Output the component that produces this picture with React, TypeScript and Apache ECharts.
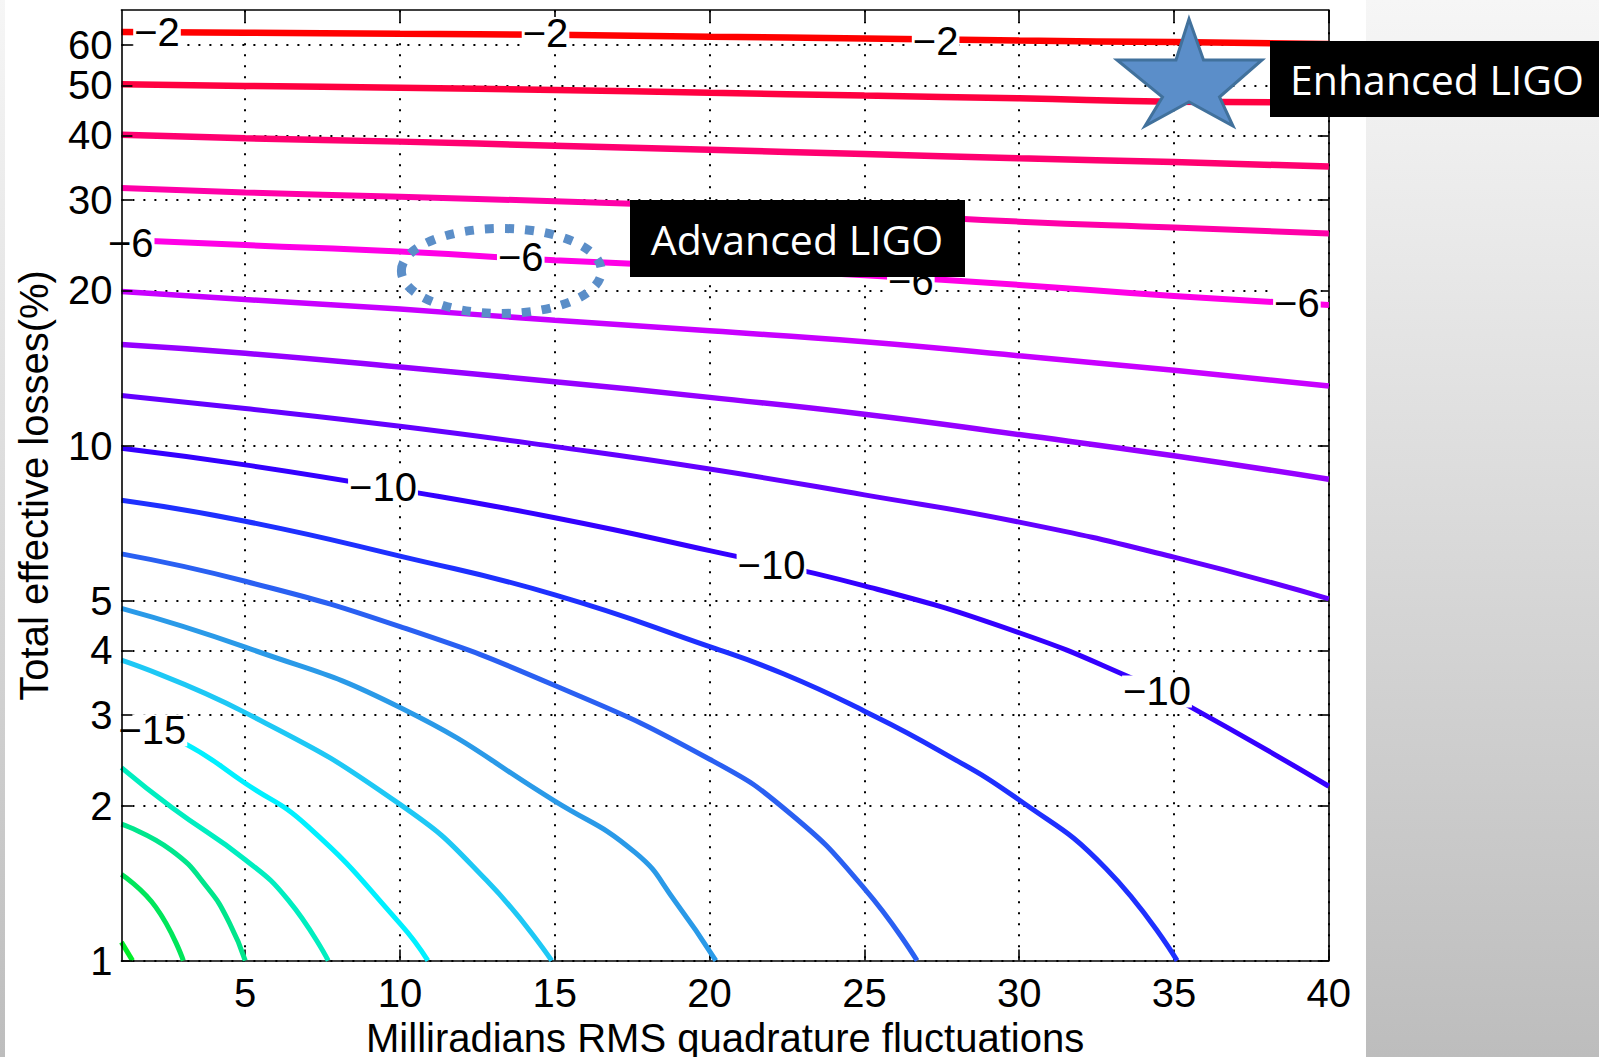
import React, { useEffect, useRef } from "react";
import * as echarts from "echarts";

// ---- axes ----
const xMin = 1;
const xMax = 40;
const yMin = 1;
const yMax = 70;
const xTicks = [5, 10, 15, 20, 25, 30, 35, 40];
const yTicks = [1, 2, 3, 4, 5, 10, 20, 30, 40, 50, 60];
const xTitle = "Milliradians RMS quadrature fluctuations";
const yTitle = "Total effective losses(%)";

// ---- contour levels (dB) ----
const levels = [-2, -3, -4, -5, -6, -7, -8, -9, -10, -11, -12, -13, -14, -15, -16, -17, -18, -19];

// ---- contour lines: [x, loss%] ----
const cm2 = [[1, 63.5], [5, 63.3], [10, 63.0], [15, 62.7], [20, 62.2], [25, 61.7], [30, 61.1], [35, 60.7], [40, 60.2]];
const cm3 = [[1, 50.3], [5, 49.9], [10, 49.5], [15, 49.0], [20, 48.4], [25, 47.8], [30, 47.2], [35, 46.5], [40, 46.3]];
const cm4 = [[1, 40.1], [5, 39.5], [10, 38.9], [15, 38.2], [20, 37.5], [25, 36.8], [30, 36.1], [35, 35.5], [40, 34.8]];
const cm5 = [[1, 31.6], [5, 31.0], [10, 30.4], [15, 29.8], [20, 29.1], [25, 28.2], [30, 27.2], [35, 26.5], [40, 25.8]];
const cm6 = [[1, 25.1], [5, 24.5], [10, 23.8], [15, 22.9], [20, 22.2], [25, 21.4], [30, 20.5], [35, 19.5], [40, 18.75]];
const cm7 = [[1, 19.9], [5, 19.2], [10, 18.4], [15, 17.5], [20, 16.7], [25, 15.9], [30, 14.93], [35, 14.0], [40, 13.05]];
const cm8 = [[1, 15.7], [5, 15.1], [10, 14.2], [15, 13.3], [20, 12.4], [25, 11.5], [30, 10.5], [35, 9.55], [40, 8.6]];
const cm9 = [[1, 12.5], [5, 11.8], [10, 10.9], [15, 9.95], [20, 9.0], [25, 8.02], [30, 7.1], [35, 6.07], [40, 5.04]];
const cm10 = [[1, 9.88], [5, 9.17], [10, 8.2], [15, 7.24], [20, 6.25], [25, 5.34], [30, 4.33], [33.8, 3.5], [35.4, 3.14], [40, 2.18]];
const cm11 = [[1, 7.83], [5, 7.13], [10, 6.1], [15, 5.13], [20, 4.07], [22.4, 3.6], [25, 3.05], [27.4, 2.56], [30, 2.05], [32.8, 1.51], [35.1, 1.0]];
const cm12 = [[1, 6.16], [5, 5.45], [10, 4.45], [15, 3.42], [20, 2.46], [22.6, 1.93], [25, 1.38], [26.7, 1.0]];
const cm13 = [[1, 4.83], [5, 4.06], [10, 3.1], [15, 2.04], [17.6, 1.62], [18.9, 1.3], [20.2, 1.0]];
const cm14 = [[1, 3.83], [5, 3.03], [10, 2.01], [12.8, 1.43], [14.9, 1.0]];
const cm15 = [[1, 2.97], [3, 2.65], [5, 2.21], [7.03, 1.82], [10, 1.18], [10.9, 1.0]];
const cm16 = [[1, 2.37], [2.64, 1.98], [5, 1.57], [6.39, 1.31], [7.68, 1.0]];
const cm17 = [[1, 1.84], [2.6, 1.64], [3.8, 1.38], [4.5, 1.18], [5.0, 1.0]];
const cm18 = [[1, 1.47], [2.11, 1.27], [3.0, 1.0]];
const cm19 = [[1, 1.086], [1.36, 1.0]];

// ---- inline contour labels ----
const labelX = [2.15, 14.7, 27.3, 1.3, 13.9, 26.5, 38.97, 9.45, 22.0, 34.45, 2.0];
const labelY = [63.6, 63.2, 61.0, 24.7, 23.2, 20.85, 18.9, 8.32, 5.87, 3.33, 2.8];
const labelText = ["−2", "−2", "−2", "−6", "−6", "−6", "−6", "−10", "−10", "−10", "−15"];

// ---- styles ----
const lineColors = [
  "#ff0000", "#ff0040", "#ff0070", "#ff00a8", "#ff00e6", "#c800ff",
  "#9600ff", "#6400ff", "#3400ff", "#1e30ff", "#2a60f2", "#2a9ae8",
  "#1ec8f5", "#00f0ff", "#00eec0", "#00e68c", "#00e65a", "#00ee28",
];
const lineWidths = [6.5, 6.5, 6.5, 6, 6, 5.5, 5.5, 5, 5, 5, 5, 5, 5, 5, 5, 5, 5, 5];
const axisFont = "'Liberation Sans', Arial, Helvetica, sans-serif";
const boxFont = "'Open Sans', 'Noto Sans', sans-serif";

const contours = [cm2, cm3, cm4, cm5, cm6, cm7, cm8, cm9, cm10, cm11, cm12, cm13, cm14, cm15, cm16, cm17, cm18, cm19];

export default function App() {
  const ref = useRef<HTMLDivElement>(null);

  useEffect(() => {
    if (!ref.current) return;
    const chart = echarts.init(ref.current, undefined, { renderer: "svg" });

    const gridDots = { color: "#000", type: [2, 9] as any, width: 2 };
    const axisLineStyle = { color: "#000", width: 1.6 };

    const lineSeries = contours.map((d, i) => ({
      type: "line",
      name: String(levels[i]),
      data: d,
      showSymbol: false,
      smooth: 0.5,
      silent: true,
      z: 3,
      lineStyle: { color: lineColors[i], width: lineWidths[i] },
    }));

    const labelSeries = {
      type: "scatter",
      data: labelX.map((x, i) => [x, labelY[i], labelText[i]]),
      symbolSize: 0.1,
      itemStyle: { color: "#fff", opacity: 1 },
      silent: true,
      z: 6,
      label: {
        show: true,
        position: "inside",
        formatter: (p: any) => p.data[2],
        color: "#000",
        opacity: 1,
        fontFamily: axisFont,
        fontSize: 40,
        lineHeight: 32,
        backgroundColor: "#fff",
        padding: [0, 1],
        textBorderWidth: 0,
        textBorderColor: "transparent",
      },
    };

    const starPts = [
      [1189, 19], [1203.5, 60], [1262, 60], [1219.5, 97], [1233, 126],
      [1189, 102], [1145, 126], [1162.5, 97], [1117, 60], [1176, 60],
    ];

    const option: any = {
      animation: false,
      backgroundColor: "transparent",
      grid: {
        left: 121.4,
        right: 1599 - 1328.8,
        top: 10.2,
        bottom: 1057 - 960.6,
        containLabel: false,
        outerBoundsMode: "none",
      },
      xAxis: [
        {
          type: "value",
          min: xMin,
          max: xMax,
          position: "bottom",
          name: xTitle,
          nameLocation: "middle",
          nameGap: 51,
          nameTextStyle: { color: "#000", fontFamily: axisFont, fontSize: 40, lineHeight: 34 },
          axisLine: { show: true, onZero: false, lineStyle: axisLineStyle },
          axisTick: { show: true, inside: true, length: 11, lineStyle: axisLineStyle, customValues: xTicks },
          axisLabel: { show: true, customValues: xTicks, color: "#000", fontFamily: axisFont, fontSize: 40, margin: 12, formatter: (v: number) => String(v) },
          splitLine: { show: true, lineStyle: gridDots },
        },
        {
          type: "value",
          min: xMin,
          max: xMax,
          position: "top",
          axisLine: { show: true, onZero: false, lineStyle: axisLineStyle },
          axisTick: { show: true, inside: true, length: 11, lineStyle: axisLineStyle, customValues: xTicks },
          axisLabel: { show: false, customValues: xTicks },
          splitLine: { show: false },
        },
      ],
      yAxis: [
        {
          type: "log",
          logBase: 10,
          min: yMin,
          max: yMax,
          position: "left",
          name: yTitle,
          nameLocation: "middle",
          nameGap: 67,
          nameTextStyle: { color: "#000", fontFamily: axisFont, fontSize: 40, lineHeight: 40 },
          axisLine: { show: false, onZero: false },
          axisTick: { show: false, customValues: yTicks },
          axisLabel: { show: true, customValues: yTicks, color: "#000", fontFamily: axisFont, fontSize: 40, margin: 9, formatter: (v: number) => String(Math.round(v)) },
          splitLine: { show: true, lineStyle: gridDots },
        },
        {
          type: "log",
          logBase: 10,
          min: yMin,
          max: yMax,
          position: "right",
          axisLine: { show: true, onZero: false, lineStyle: axisLineStyle },
          axisTick: { show: true, inside: true, length: 11, lineStyle: axisLineStyle, customValues: yTicks },
          axisLabel: { show: false, customValues: yTicks },
          splitLine: { show: false },
        },
        {
          type: "log",
          logBase: 10,
          min: yMin,
          max: yMax,
          position: "left",
          offset: 0,
          z: 10,
          axisLine: { show: true, onZero: false, lineStyle: axisLineStyle },
          axisTick: { show: true, inside: true, length: 11, lineStyle: axisLineStyle, customValues: yTicks },
          axisLabel: { show: false, customValues: yTicks },
          splitLine: { show: false },
        },
      ],
      series: [...lineSeries, labelSeries],
      graphic: [
        {
          type: "ellipse",
          z: 100,
          silent: true,
          shape: { cx: 501.4, cy: 271, rx: 100, ry: 42.5 },
          style: { fill: "none", stroke: "#5b8ec8", lineWidth: 9, lineDash: [9, 11] },
        },
        {
          type: "rect",
          z: 100,
          silent: true,
          shape: { x: 630, y: 200, width: 335, height: 77 },
          style: { fill: "#000" },
        },
        {
          type: "text",
          z: 101,
          silent: true,
          x: 797,
          y: 239,
          style: { text: "Advanced LIGO", fill: "#fff", fontFamily: boxFont, fontSize: 41, align: "center", verticalAlign: "middle" },
        },
        {
          type: "rect",
          z: 100,
          silent: true,
          shape: { x: 1270, y: 41, width: 329, height: 76 },
          style: { fill: "#000" },
        },
        {
          type: "text",
          z: 101,
          silent: true,
          x: 1437,
          y: 79,
          style: { text: "Enhanced LIGO", fill: "#fff", fontFamily: boxFont, fontSize: 41, align: "center", verticalAlign: "middle" },
        },
        {
          type: "polygon",
          z: 102,
          silent: true,
          shape: { points: starPts },
          style: { fill: "#5b8ec9", stroke: "#41719c", lineWidth: 3 },
        },
      ],
    };

    chart.setOption(option);
    return () => chart.dispose();
  }, []);

  return (
    <div
      style={{
        position: "fixed",
        left: 0,
        top: 0,
        width: 1599,
        height: 1057,
        background: "linear-gradient(to bottom, #f6f6f6 0%, #bdbdbd 100%)",
        overflow: "hidden",
      }}
    >
      <div style={{ position: "absolute", left: 5, top: 0, width: 1361, height: 1057, background: "#fff" }} />
      <div ref={ref} style={{ position: "absolute", left: 0, top: 0, width: 1599, height: 1057 }} />
    </div>
  );
}
